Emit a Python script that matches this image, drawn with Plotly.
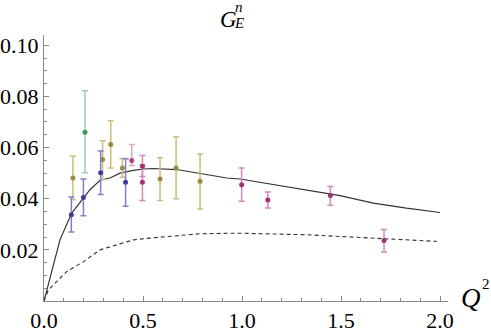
import plotly.graph_objects as go

# data series (Q^2, G_E^n, error upper, error lower)
blue_x = [0.138, 0.199, 0.286, 0.412]
blue_y = [0.0337, 0.0405, 0.0501, 0.0464]
blue_hi = [0.0407, 0.0477, 0.0586, 0.0556]
blue_lo = [0.0270, 0.0333, 0.0416, 0.0370]

green_x = [0.207]
green_y = [0.0660]
green_hi = [0.0822]
green_lo = [0.0501]

olive_x = [0.146, 0.296, 0.337, 0.396, 0.586, 0.667, 0.788]
olive_y = [0.0481, 0.0553, 0.0612, 0.0520, 0.0477, 0.0520, 0.0468]
olive_hi = [0.0566, 0.0627, 0.0705, 0.0557, 0.0560, 0.0642, 0.0575]
olive_lo = [0.0396, 0.0475, 0.0520, 0.0484, 0.0393, 0.0400, 0.0360]

pink_x = [0.443]
pink_y = [0.0549]
pink_hi = [0.0612]
pink_lo = [0.0530]

mag_x = [0.497, 0.497, 0.998, 1.130, 1.446, 1.717]
mag_y = [0.0527, 0.0464, 0.0455, 0.0395, 0.0412, 0.0237]
mag_hi = [0.0569, 0.0533, 0.0520, 0.0426, 0.0448, 0.0280]
mag_lo = [0.0487, 0.0393, 0.0390, 0.0364, 0.0374, 0.0192]

solid_x = [0.0, 0.047, 0.081, 0.14, 0.2, 0.232, 0.283, 0.333, 0.384, 0.451, 0.502,
           0.552, 0.67, 0.788, 0.923, 0.99, 1.09, 1.158, 1.327, 1.495, 1.663, 1.83, 2.0]
solid_y = [0.0, 0.0141, 0.024, 0.0344, 0.0403, 0.0435, 0.0472, 0.0481, 0.05, 0.0511, 0.0516,
           0.0518, 0.0514, 0.05, 0.0481, 0.0477, 0.0464, 0.0455, 0.0433, 0.0412, 0.0383, 0.0363, 0.0346]

dash_x = [0.0, 0.022, 0.114, 0.2, 0.283, 0.367, 0.451, 0.535, 0.62, 0.704, 0.788, 0.956,
          0.99, 1.327, 1.663, 1.983]
dash_y = [0.0, 0.0043, 0.0115, 0.0154, 0.02, 0.022, 0.0239, 0.0246, 0.0252, 0.0259, 0.0263, 0.0265,
          0.0265, 0.0259, 0.0246, 0.0233]

x_ticks = [0.0, 0.5, 1.0, 1.5, 2.0]
x_tick_text = ["0.0", "0.5", "1.0", "1.5", "2.0"]
y_ticks = [0.02, 0.04, 0.06, 0.08, 0.10]
y_tick_text = ["0.02", "0.04", "0.06", "0.08", "0.10"]

fig = go.Figure()

fig.add_trace(go.Scatter(x=dash_x, y=dash_y, mode="lines",
                         line=dict(color="#333333", width=1.1, dash="4px,3px"), showlegend=False))
fig.add_trace(go.Scatter(x=solid_x, y=solid_y, mode="lines",
                         line=dict(color="#333333", width=1.2), showlegend=False))


def add_err(xs, ys, hi, lo, pt, bar):
    fig.add_trace(go.Scatter(
        x=xs, y=ys, mode="markers",
        marker=dict(color=pt, size=5),
        error_y=dict(type="data", symmetric=False,
                     array=[h - y for h, y in zip(hi, ys)],
                     arrayminus=[y - l for l, y in zip(lo, ys)],
                     color=bar, thickness=1.5, width=3),
        showlegend=False))


add_err(olive_x, olive_y, olive_hi, olive_lo, "#9a8a3a", "#cbbd7e")
add_err(green_x, green_y, green_hi, green_lo, "#3a9a5a", "#92d4ab")
add_err(blue_x, blue_y, blue_hi, blue_lo, "#3d3da0", "#8080c8")
add_err(pink_x, pink_y, pink_hi, pink_lo, "#b8407e", "#e0a6c6")
add_err(mag_x, mag_y, mag_hi, mag_lo, "#a03070", "#d488b4")

axis_col = "#8a8a8a"
font = "'Liberation Serif', 'Times New Roman', Times, 'DejaVu Serif', serif"

fig.update_layout(
    width=491, height=331,
    margin=dict(l=44, r=43, t=35, b=30, autoexpand=False),
    paper_bgcolor="white", plot_bgcolor="white",
    font=dict(family=font, size=19, color="black"),
    xaxis=dict(range=[0, 2.04], showgrid=False, zeroline=False, automargin=False,
               showline=True, linecolor=axis_col, linewidth=1,
               tickvals=x_ticks, ticktext=x_tick_text,
               ticks="inside", ticklen=5, tickcolor=axis_col,
               minor=dict(dtick=0.1, tick0=0, ticks="inside", ticklen=3, tickcolor=axis_col),
               tickfont=dict(family=font, size=22)),
    yaxis=dict(range=[0, 0.104], showgrid=False, zeroline=False, automargin=False,
               showline=True, linecolor=axis_col, linewidth=1,
               tickvals=y_ticks, ticktext=y_tick_text,
               ticks="inside", ticklen=5, tickcolor=axis_col,
               minor=dict(dtick=0.005, tick0=0, ticks="inside", ticklen=3, tickcolor=axis_col),
               tickfont=dict(family=font, size=22)),
    annotations=[
        dict(text="<i>G</i>", x=228, y=331 - 20, xref="paper", yref="paper", showarrow=False,
             font=dict(family=font, size=23)),
        dict(text="<i>n</i>", x=239, y=331 - 7, xref="paper", yref="paper", showarrow=False,
             font=dict(family=font, size=15)),
        dict(text="<i>E</i>", x=238.5, y=331 - 23, xref="paper", yref="paper", showarrow=False,
             font=dict(family=font, size=15)),
        dict(text="<i>Q</i>", x=471, y=331 - 298, xref="paper", yref="paper", showarrow=False,
             font=dict(family=font, size=27)),
        dict(text="2", x=486, y=331 - 284, xref="paper", yref="paper", showarrow=False,
             font=dict(family=font, size=15)),
    ],
)

# convert pixel positions of annotations to paper coordinates
pw = 491 - 44 - 43
ph = 331 - 35 - 30
for a in fig.layout.annotations:
    a.x = (a.x - 44) / pw
    a.y = (a.y - 30) / ph
    a.xanchor = "center"
    a.yanchor = "middle"

fig.write_html("out.html", config={"displayModeBar": False})

# remove the browser's default page margin so the figure sits at the top-left corner
with open("out.html", encoding="utf-8") as f:
    html = f.read()
html = html.replace("<head>", "<head><style>html,body{margin:0;padding:0;overflow:hidden;}</style>", 1)
with open("out.html", "w", encoding="utf-8") as f:
    f.write(html)
